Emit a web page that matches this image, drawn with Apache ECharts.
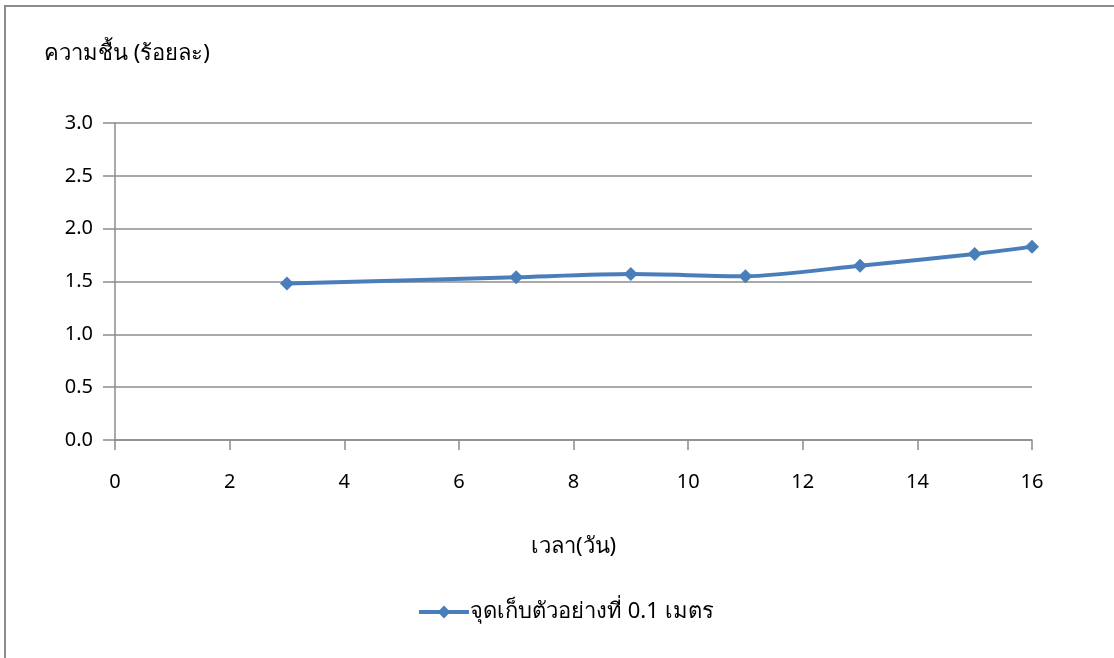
<!DOCTYPE html>
<html>
<head>
<meta charset="utf-8">
<script src="https://cdn.jsdelivr.net/npm/echarts@6/dist/echarts.min.js"></script>
<style>
  html, body { margin: 0; padding: 0; background: #fff; }
  #chart { width: 1114px; height: 658px; }
</style>
</head>
<body>
<div id="chart"></div>
<script>
// ข้อมูลความชื้น
var days = [3, 7, 9, 11, 13, 15, 16];
var moisture = [1.48, 1.54, 1.57, 1.55, 1.65, 1.76, 1.83];
var seriesName = 'จุดเก็บตัวอย่างที่ 0.1 เมตร';
var yTitle = 'ความชื้น (ร้อยละ)';
var xTitle = 'เวลา(วัน)';

var font = 'Tahoma, "Noto Sans", "DejaVu Sans", sans-serif';
var chart = echarts.init(document.getElementById('chart'));

var points = [];
for (var i = 0; i < days.length; i++) {
    points.push([days[i], moisture[i]]);
}

chart.setOption({
    animation: false,
    graphic: [{
        type: 'rect',
        shape: { x: 5, y: 6, width: 1200, height: 700 },
        style: { fill: 'none', stroke: '#8c8c8c', lineWidth: 2 }
    }, {
        type: 'text',
        left: 44, top: 43,
        style: { text: yTitle, font: '22px ' + font, fill: '#000' }
    }],
    grid: { left: 115, right: 82, top: 123, bottom: 218 },
    legend: {
        bottom: 30, left: 412,
        itemWidth: 50, itemHeight: 16, itemGap: 4,
        textStyle: { fontSize: 22, fontFamily: font, color: '#000', padding: [0, 0, 0, -4] },
        data: [{ name: seriesName, lineStyle: { width: 4 } }]
    },
    xAxis: {
        type: 'value', min: 0, max: 16, interval: 2,
        name: xTitle, nameLocation: 'middle', nameGap: 96,
        nameTextStyle: { fontSize: 22, fontFamily: font, color: '#000' },
        axisLine: { lineStyle: { color: '#8c8c8c', width: 1.5 } },
        axisTick: { show: true, length: 10, lineStyle: { color: '#8c8c8c', width: 1.5 } },
        axisLabel: { fontSize: 20, fontFamily: font, color: '#000', margin: 32 },
        splitLine: { show: false }
    },
    yAxis: {
        type: 'value', min: 0, max: 3, interval: 0.5,
        axisLine: { show: true, lineStyle: { color: '#8c8c8c', width: 1.5 } },
        axisTick: { show: true, length: 12, lineStyle: { color: '#8c8c8c', width: 1.5 } },
        axisLabel: {
            fontSize: 20, fontFamily: font, color: '#000', margin: 22,
            formatter: function (v) { return v.toFixed(1); }
        },
        splitLine: { lineStyle: { color: '#8c8c8c', width: 1.5 } }
    },
    series: [{
        name: seriesName,
        type: 'line',
        data: points,
        smooth: 0.25,
        symbol: 'diamond',
        symbolSize: 14,
        itemStyle: { color: '#4a7ebb' },
        lineStyle: { color: '#4a7ebb', width: 4 }
    }]
});
</script>
</body>
</html>
